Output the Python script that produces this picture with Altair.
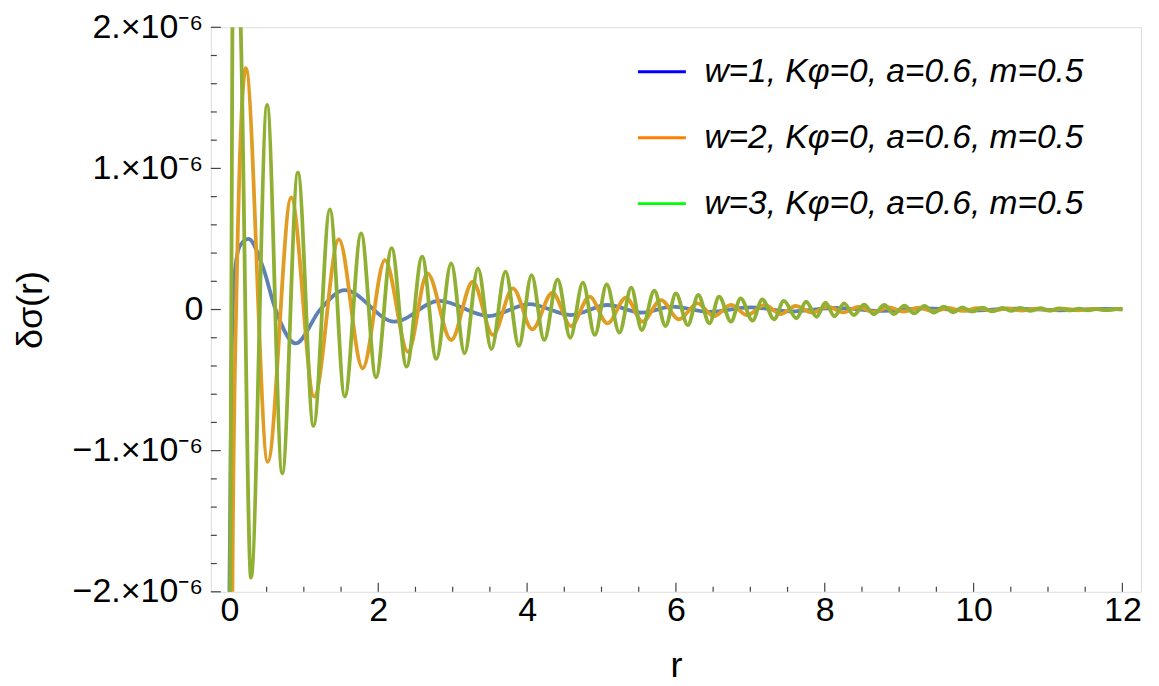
import altair as alt
import pandas as pd

# values in units of 1e-6 (extrema and a few shape points)
blue_r = [-0.01, 0.0, 0.03, 0.07, 0.14, 0.255, 0.45, 0.62, 0.89, 1.22, 1.55, 2.22, 2.82, 3.49, 4.03, 4.59, 5.08,
          5.55, 5.95, 6.45, 7.0, 7.55, 8.15, 8.75, 9.35, 9.95, 10.55, 11.15, 11.75, 12.0]
blue_v = [-4.0, -2.0, -0.3, 0.25, 0.45, 0.50, 0.30, 0.0, -0.24, 0.0, 0.138, -0.086, 0.062, -0.046, 0.039, -0.039, 0.032,
          -0.022, 0.02, -0.016, 0.016, -0.013, 0.012, -0.01, 0.008, -0.007, 0.006, -0.005, 0.004, 0.002]

orange_r = [0.02, 0.04, 0.09, 0.22, 0.515, 0.83, 1.14, 1.47, 1.79, 2.09, 2.40, 2.66, 2.98, 3.27, 3.54, 3.81, 4.07,
            4.34, 4.59, 4.84, 5.08, 5.33, 5.55, 5.80, 6.04, 6.29, 6.51, 6.74, 6.96, 7.19, 7.41, 7.61, 7.83, 8.04,
            8.25, 8.45, 8.66, 8.86, 9.06, 9.26, 9.46, 9.66, 9.86, 10.05, 10.25, 10.45, 10.64, 10.83, 11.02, 11.21,
            11.40, 11.59, 11.78, 11.96, 12.0]
orange_v = [-4.0, -2.0, 0.0, 1.71, -1.08, 0.794, -0.617, 0.497, -0.416, 0.35, -0.30, 0.256, -0.216, 0.197, -0.18,
            0.15, -0.14, 0.119, -0.117, 0.091, -0.098, 0.085, -0.086, 0.067, -0.069, 0.044, -0.046, 0.032, -0.039,
            0.032, -0.032, 0.025, -0.022, 0.02, -0.02, 0.018, -0.017, 0.015, -0.014, 0.013, -0.012, 0.011, -0.01,
            0.009, -0.009, 0.008, -0.007, 0.007, -0.006, 0.006, -0.005, 0.005, -0.004, 0.004, 0.003]

green_r = [0.0, 0.01, 0.04, 0.095, 0.152, 0.29, 0.506, 0.71, 0.92, 1.13, 1.35, 1.55, 1.77, 1.97, 2.18, 2.38, 2.59,
           2.78, 2.98, 3.16, 3.34, 3.52, 3.71, 3.89, 4.06, 4.23, 4.41, 4.58, 4.75, 4.91, 5.07, 5.24, 5.40, 5.54,
           5.71, 5.86, 6.00, 6.16, 6.30, 6.45, 6.58, 6.74, 6.87, 7.03, 7.16, 7.32, 7.45, 7.62, 7.75, 7.89, 8.01,
           8.13, 8.26, 8.39, 8.53, 8.66, 8.80, 8.93, 9.07, 9.20, 9.34, 9.47, 9.60, 9.73, 9.85, 9.98, 10.12, 10.25,
           10.39, 10.50, 10.63, 10.77, 10.90, 11.02, 11.15, 11.28, 11.42, 11.54, 11.66, 11.78, 11.90, 12.0]
green_v = [-6.0, -2.0, 2.0, 2.9, 2.0, -1.90, 1.45, -1.16, 0.97, -0.825, 0.71, -0.617, 0.54, -0.48, 0.435, -0.405,
           0.374, -0.35, 0.327, -0.31, 0.292, -0.28, 0.268, -0.258, 0.244, -0.216, 0.214, -0.20, 0.19, -0.18, 0.178,
           -0.164, 0.155, -0.145, 0.133, -0.117, 0.115, -0.11, 0.103, -0.098, 0.091, -0.086, 0.079, -0.079, 0.072,
           -0.069, 0.062, -0.062, 0.055, -0.051, 0.048, -0.048, 0.044, -0.039, 0.034, -0.034, 0.032, -0.032, 0.027,
           -0.027, 0.025, -0.022, 0.02, -0.02, 0.016, -0.015, 0.013, -0.013, 0.012, -0.01, 0.011, -0.009, 0.009,
           -0.008, 0.008, -0.006, 0.006, -0.005, 0.004, -0.004, 0.003, 0.002]

labels = ["w=1, Kφ=0, a=0.6, m=0.5", "w=2, Kφ=0, a=0.6, m=0.5", "w=3, Kφ=0, a=0.6, m=0.5"]
line_colors = ["#5E81B5", "#E19C24", "#8FB032"]
legend_colors = ["#0000FF", "#FF8000", "#00FF00"]

x_major = [0, 2, 4, 6, 8, 10, 12]
x_minor = [v / 2 for v in range(0, 25) if v % 4 != 0]
y_major = [-2, -1, 0, 1, 2]
y_minor = [round(-2 + 0.2 * i, 1) for i in range(21) if i % 5 != 0]

W, H = 931, 565
FONT = "Liberation Sans"

xscale = alt.Scale(domain=[-0.25, 12.25], nice=False, zero=False)
yscale = alt.Scale(domain=[-2, 2], nice=False, zero=False)

xaxis = alt.Axis(values=x_major, grid=False, ticks=False, tickSize=0, domain=False, labelFont=FONT,
                 labelFontSize=34, labelColor="black", labelPadding=2, title="r", titleFont=FONT,
                 titleFontSize=36, titleFontWeight="normal", titleColor="black", titleBaseline="alphabetic",
                 titleY=85)
yaxis = alt.Axis(values=y_major, grid=False, ticks=False, tickSize=0, domain=False, labelFont=FONT,
                 labelFontSize=34, labelColor="black", labelPadding=8,
                 labelExpr="datum.value == 0 ? '0' : (datum.value < 0 ? '−' : '') + abs(datum.value) + '.×10⁻⁶'",
                 title="δσ(r)", titleFont=FONT, titleFontSize=36, titleFontWeight="normal", titleColor="black",
                 titleX=-180, titleY=H / 2, titleBaseline="middle")

X = alt.X("r:Q", scale=xscale, axis=xaxis)
Y = alt.Y("v:Q", scale=yscale, axis=yaxis)


def series(r, v):
    return pd.DataFrame({"r": r, "v": v})


def line(df, color):
    return alt.Chart(df).mark_line(clip=True, interpolate="monotone", strokeWidth=3.8, color=color).encode(
        x=X, y=Y)


tick_col = "#444444"
xmaj = alt.Chart(pd.DataFrame({"r": x_major})).mark_rule(color=tick_col, strokeWidth=1.2).encode(
    x=X, y=alt.value(H), y2=alt.value(H - 9))
xmin = alt.Chart(pd.DataFrame({"r": x_minor})).mark_rule(color=tick_col, strokeWidth=1.2).encode(
    x=X, y=alt.value(H), y2=alt.value(H - 5))
ymaj = alt.Chart(pd.DataFrame({"v": y_major})).mark_rule(color=tick_col, strokeWidth=1.2).encode(
    y=Y, x=alt.value(0), x2=alt.value(10))
ymin = alt.Chart(pd.DataFrame({"v": y_minor})).mark_rule(color=tick_col, strokeWidth=1.2).encode(
    y=Y, x=alt.value(0), x2=alt.value(6))

legend_df = pd.DataFrame({"label": labels, "r": [-5, -5, -5], "v": [0, 0, 0]})
legend_layer = alt.Chart(legend_df).mark_point(clip=True, filled=False).encode(
    x=X, y=Y,
    color=alt.Color("label:N", scale=alt.Scale(domain=labels, range=legend_colors),
                    legend=alt.Legend(orient="none", legendX=426, legendY=19, title=None,
                                      symbolType="stroke", symbolSize=2304, symbolStrokeWidth=3,
                                      symbolOpacity=1, labelFont=FONT, labelFontSize=33.5,
                                      labelFontStyle="italic", labelColor="black", labelOffset=17,
                                      rowPadding=24, labelLimit=0)),
)

chart = alt.layer(
    xmin, xmaj, ymin, ymaj,
    line(series(blue_r, blue_v), line_colors[0]),
    line(series(orange_r, orange_v), line_colors[1]),
    line(series(green_r, green_v), line_colors[2]),
    legend_layer,
).properties(
    width=W, height=H,
    autosize=alt.AutoSizeParams(type="none"),
    padding={"left": 203, "top": 19, "right": 10, "bottom": 94},
).configure_view(stroke="#333333", strokeWidth=1.2).configure(background="white")

chart.save("out.html", embed_options={"renderer": "svg", "actions": False})
